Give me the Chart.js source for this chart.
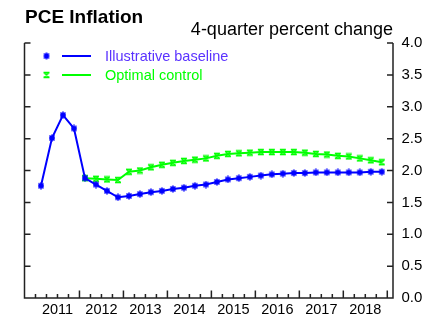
<!DOCTYPE html>
<html>
<head>
<meta charset="utf-8">
<script src="https://cdn.jsdelivr.net/npm/chart.js@4.4.1/dist/chart.umd.min.js"></script>
<style>
  html, body { margin: 0; padding: 0; background: #fff; }
  canvas { display: block; }
</style>
</head>
<body>
<canvas id="chart" width="432" height="333"></canvas>
<script>
const quarters = [
  '2011Q1', '2011Q2', '2011Q3', '2011Q4', '2012Q1', '2012Q2', '2012Q3', '2012Q4',
  '2013Q1', '2013Q2', '2013Q3', '2013Q4', '2014Q1', '2014Q2', '2014Q3', '2014Q4',
  '2015Q1', '2015Q2', '2015Q3', '2015Q4', '2016Q1', '2016Q2', '2016Q3', '2016Q4',
  '2017Q1', '2017Q2', '2017Q3', '2017Q4', '2018Q1', '2018Q2', '2018Q3', '2018Q4'
];
const baseline = [
  1.76, 2.51, 2.87, 2.66, 1.88, 1.78, 1.68, 1.58,
  1.60, 1.63, 1.66, 1.68, 1.71, 1.73, 1.76, 1.78,
  1.82, 1.86, 1.88, 1.90, 1.92, 1.94, 1.95, 1.96,
  1.96, 1.97, 1.97, 1.97, 1.97, 1.97, 1.98, 1.98
];
const optimal = [
  null, null, null, null, 1.88, 1.87, 1.86, 1.85,
  1.98, 2.00, 2.05, 2.09, 2.12, 2.15, 2.17, 2.19,
  2.23, 2.26, 2.27, 2.28, 2.29, 2.29, 2.29, 2.29,
  2.28, 2.26, 2.25, 2.23, 2.22, 2.19, 2.16, 2.13
];
const yearLabels = ['2011', '2012', '2013', '2014', '2015', '2016', '2017', '2018'];

const BLUE = '#0000ff';
const GREEN = '#00ff00';
const FONT = '"Liberation Sans", Arial, Helvetica, sans-serif';

// quarter label -> position on a year axis (middle of the quarter)
const toX = q => +q.slice(0, 4) + (+q.slice(5) - 0.5) / 4;
const toPoints = vals => quarters
  .map((q, i) => ({ x: toX(q), y: vals[i] }))
  .filter(p => p.y !== null);

function makeMarker(color, kind) {
  const c = document.createElement('canvas');
  c.width = 8; c.height = 8;
  const g = c.getContext('2d');
  g.strokeStyle = color;
  g.lineWidth = 1.6;
  g.beginPath();
  g.moveTo(1.5, 1.5); g.lineTo(6.5, 6.5);
  g.moveTo(6.5, 1.5); g.lineTo(1.5, 6.5);
  if (kind === 'star') {
    g.moveTo(4, 0.5); g.lineTo(4, 7.5);
    g.moveTo(1, 4); g.lineTo(7, 4);
  } else {
    g.moveTo(1, 1.5); g.lineTo(7, 1.5);
    g.moveTo(1, 6.5); g.lineTo(7, 6.5);
  }
  g.stroke();
  return c;
}
const blueMarker = makeMarker(BLUE, 'star');
const greenMarker = makeMarker(GREEN, 'bar');

// axis lines and inward tick marks
const frame = {
  id: 'frame',
  afterDraw(chart) {
    const { ctx, chartArea: a, scales: { x, y } } = chart;
    ctx.save();
    ctx.strokeStyle = '#222';
    ctx.lineWidth = 1.5;
    ctx.beginPath();
    ctx.moveTo(a.left, a.top); ctx.lineTo(a.left, a.bottom);
    ctx.lineTo(a.right, a.bottom); ctx.lineTo(a.right, a.top);
    for (let v = 0; v <= 4; v += 0.5) {
      const py = y.getPixelForValue(v);
      ctx.moveTo(a.left, py); ctx.lineTo(a.left + 6, py);
      ctx.moveTo(a.right, py); ctx.lineTo(a.right - 6, py);
    }
    for (let t = 2011; t <= 2019.001; t += 0.25) {
      const px = x.getPixelForValue(t);
      const major = Math.abs(t - Math.round(t)) < 0.01 && t > 2011.5;
      ctx.moveTo(px, a.bottom); ctx.lineTo(px, a.bottom - (major ? 7.5 : 4));
    }
    ctx.stroke();
    ctx.restore();
  }
};

const headings = {
  id: 'headings',
  afterDraw(chart) {
    const { ctx, chartArea: a } = chart;
    ctx.save();
    ctx.fillStyle = '#000';
    ctx.textBaseline = 'alphabetic';
    ctx.font = 'bold 19px ' + FONT;
    ctx.textAlign = 'left';
    ctx.fillText('PCE Inflation', 25, 23);
    ctx.font = '18px ' + FONT;
    ctx.textAlign = 'right';
    ctx.fillText('4-quarter percent change', a.right, 35);
    ctx.restore();
  }
};

const legendBox = {
  id: 'legendBox',
  afterDraw(chart) {
    const { ctx } = chart;
    const textColors = ['#5a32ff', GREEN];
    ctx.save();
    ctx.font = '14.5px ' + FONT;
    ctx.textBaseline = 'middle';
    ctx.textAlign = 'left';
    chart.data.datasets.forEach((ds, i) => {
      const yy = 56 + i * 19;
      ctx.drawImage(ds.pointStyle, 46.5 - 4, yy - 4);
      ctx.strokeStyle = ds.borderColor;
      ctx.lineWidth = 2;
      ctx.beginPath();
      ctx.moveTo(62, yy); ctx.lineTo(91, yy);
      ctx.stroke();
      ctx.fillStyle = textColors[i];
      ctx.fillText(ds.label, 105, yy + 1);
    });
    ctx.restore();
  }
};

new Chart(document.getElementById('chart'), {
  type: 'line',
  data: {
    datasets: [
      {
        label: 'Illustrative baseline',
        data: toPoints(baseline),
        borderColor: BLUE,
        backgroundColor: BLUE,
        borderWidth: 2,
        pointStyle: blueMarker,
        pointRadius: 3,
        tension: 0
      },
      {
        label: 'Optimal control',
        data: toPoints(optimal),
        borderColor: GREEN,
        backgroundColor: GREEN,
        borderWidth: 2,
        pointStyle: greenMarker,
        pointRadius: 3,
        tension: 0
      }
    ]
  },
  options: {
    responsive: false,
    animation: false,
    layout: { padding: { left: 24.5, top: 43, right: 0, bottom: 0 } },
    plugins: {
      legend: { display: false },
      tooltip: { enabled: false },
      title: { display: false }
    },
    scales: {
      x: {
        type: 'linear',
        min: 2010.75,
        max: 2019.13,
        grid: { display: false, drawTicks: false },
        border: { display: false },
        afterBuildTicks: s => { s.ticks = yearLabels.map(y => ({ value: +y + 0.5 })); },
        afterFit: s => { s.height = 35; },
        ticks: {
          callback: v => String(Math.floor(v)),
          font: { size: 14.5, family: FONT },
          color: '#000',
          padding: 3,
          maxRotation: 0,
          autoSkip: false
        }
      },
      y: {
        position: 'right',
        min: 0,
        max: 4,
        grid: { display: false, drawTicks: false },
        border: { display: false },
        afterFit: s => { s.width = 39; },
        ticks: {
          stepSize: 0.5,
          callback: v => v.toFixed(1),
          font: { size: 15, family: FONT },
          color: '#000',
          padding: 8.5
        }
      }
    }
  },
  plugins: [frame, headings, legendBox]
});
</script>
</body>
</html>
